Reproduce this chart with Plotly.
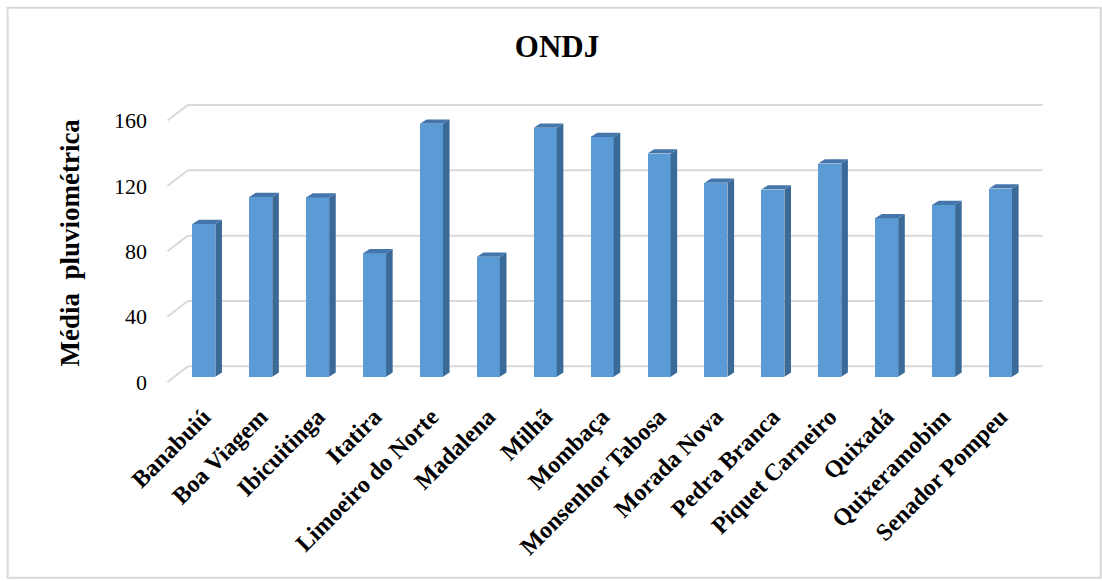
import plotly.graph_objects as go

# ---- data ----
categories = ["Banabuiú", "Boa Viagem", "Ibicuitinga", "Itatira", "Limoeiro do Norte",
              "Madalena", "Milhã", "Mombaça", "Monsenhor Tabosa", "Morada Nova",
              "Pedra Branca", "Piquet Carneiro", "Quixadá", "Quixeramobim", "Senador Pompeu"]
values = [93.5, 110.1, 109.8, 75.6, 154.9, 73.5, 152.4, 146.7, 136.6, 118.7,
          114.6, 130.5, 97.0, 105.1, 115.2]
y_ticks = [0, 40, 80, 120, 160]
title_text = "ONDJ"
y_title = "Média  pluviométrica"

# ---- geometry (pseudo-3D look) ----
W, H = 1102, 581
XR = [-0.7, 14.8]
YR = [-5, 170]
ML, MR, MT, MB = 164.4, 55.7, 98.5, 195.5
BW = 0.405          # bar front width (category units)
DX, DY = 0.116, 2.6  # bar depth offset
FRONT_X, BACK_LX, BACK_RX = -0.64, -0.28, 14.74
FRONT_DY, BACK_DY = -3.2, 6.4

FRONT = "#5b9bd5"
SIDE = "#3a6a98"
TOP = "#4576ab"
GRID = "#d9d9d9"
FONT = "Liberation Serif, Times New Roman, serif"

x_idx = list(range(len(categories)))

fig = go.Figure()

# front faces
fig.add_trace(go.Bar(x=x_idx, y=values, width=BW, marker=dict(color=FRONT, line=dict(width=0)),
                     showlegend=False, hoverinfo="skip"))

# side and top faces
sx, sy = [], []
tx, ty = [], []
for i, v in zip(x_idx, values):
    r = i + BW / 2
    l = i - BW / 2
    sx += [r, r, r + DX, r + DX, r, None]
    sy += [0, v, v + DY, DY, 0, None]
    tx += [l, r, r + DX, l + DX, l, None]
    ty += [v, v, v + DY, v + DY, v, None]
fig.add_trace(go.Scatter(x=sx, y=sy, mode="lines", fill="toself", fillcolor=SIDE,
                         line=dict(width=0, color=SIDE), showlegend=False, hoverinfo="skip"))
fig.add_trace(go.Scatter(x=tx, y=ty, mode="lines", fill="toself", fillcolor=TOP,
                         line=dict(width=0, color=TOP), showlegend=False, hoverinfo="skip"))

shapes = []
for t in y_ticks:
    shapes.append(dict(type="line", xref="x", yref="y", x0=FRONT_X, y0=t + FRONT_DY,
                       x1=BACK_LX, y1=t + BACK_DY, line=dict(color=GRID, width=2), layer="below"))
    shapes.append(dict(type="line", xref="x", yref="y", x0=BACK_LX, y0=t + BACK_DY,
                       x1=BACK_RX, y1=t + BACK_DY, line=dict(color=GRID, width=2), layer="below"))

pw = W - ML - MR
ph = H - MT - MB
def px2paper_x(px):
    return (px - ML) / pw
def px2paper_y(py):
    return (H - MB - py) / ph

# outer border
shapes.append(dict(type="rect", xref="paper", yref="paper",
                   x0=px2paper_x(8), x1=px2paper_x(1101), y0=px2paper_y(579), y1=px2paper_y(7),
                   line=dict(color="#d9d9d9", width=2), fillcolor="rgba(0,0,0,0)", layer="below"))

fig.update_layout(
    width=W, height=H,
    margin=dict(l=ML, r=MR, t=MT, b=MB, pad=0),
    paper_bgcolor="white", plot_bgcolor="white",
    shapes=shapes,
    bargap=0,
    title=dict(text="<b>" + title_text + "</b>", x=557 / W, xref="container",
               xanchor="center", y=1 - 46 / H, yanchor="middle",
               font=dict(family=FONT, size=31, color="black")),
    annotations=[dict(text="<b>" + y_title + "</b>", xref="paper", yref="paper",
                      x=px2paper_x(70), y=px2paper_y(243), xanchor="center", yanchor="middle",
                      textangle=-90, showarrow=False,
                      font=dict(family=FONT, size=27, color="black"))],
    xaxis=dict(range=XR, tickmode="array", tickvals=x_idx, ticktext=categories,
               tickangle=-45, showgrid=False, zeroline=False, showline=False,
               ticks="", ticklabelstandoff=12,
               tickfont=dict(family=FONT, size=24, color="black", weight="bold")),
    yaxis=dict(range=YR, tickmode="array", tickvals=[t + FRONT_DY for t in y_ticks],
               ticktext=[str(t) for t in y_ticks], showgrid=False, zeroline=False,
               showline=False, ticks="", ticklabelstandoff=16,
               tickfont=dict(family=FONT, size=22, color="black")),
)

fig.write_html("out.html")
